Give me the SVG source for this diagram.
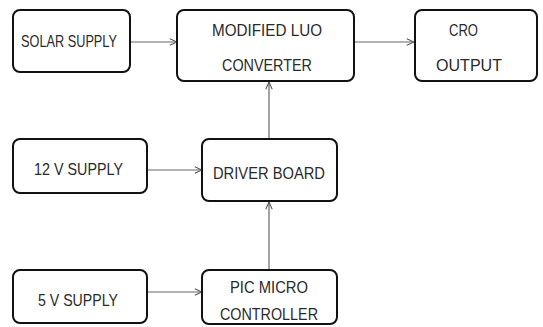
<svg xmlns="http://www.w3.org/2000/svg" width="543" height="327" viewBox="0 0 543 327">
<style>
.box{fill:#fff;stroke:#111;stroke-width:2}
.t{font-family:"Liberation Sans",Arial,sans-serif;font-size:16.5px;fill:#2a2a2a}
.c{stroke:#666;stroke-width:1.2;fill:none;marker-end:url(#ah)}
</style>
<defs>
<marker id="ah" viewBox="0 0 10 10" refX="10" refY="5" markerWidth="8" markerHeight="8" markerUnits="userSpaceOnUse" orient="auto">
<path d="M1,1 L10,5 L1,9" fill="none" stroke="#555" stroke-width="1.3"/>
</marker>
</defs>
<rect width="543" height="327" fill="#fff"/>
<g id="connectors">
<line class="c" x1="130" y1="42" x2="177" y2="42"/>
<line class="c" x1="354" y1="42" x2="414" y2="42"/>
<line class="c" x1="269" y1="139" x2="269" y2="82"/>
<line class="c" x1="147" y1="170" x2="202" y2="170"/>
<line class="c" x1="269" y1="270" x2="269" y2="202"/>
<line class="c" x1="147" y1="292" x2="202" y2="292"/>
</g>
<g id="solar">
<rect class="box" x="13" y="10" width="117" height="62" rx="7"/>
<text class="t" x="21" y="47" textLength="96" lengthAdjust="spacingAndGlyphs">SOLAR SUPPLY</text>
</g>
<g id="luo">
<rect class="box" x="177" y="10" width="177" height="71" rx="7"/>
<text class="t" x="212" y="36" textLength="110" lengthAdjust="spacingAndGlyphs">MODIFIED LUO</text>
<text class="t" x="222" y="71" textLength="90" lengthAdjust="spacingAndGlyphs">CONVERTER</text>
</g>
<g id="cro">
<rect class="box" x="415" y="10" width="122" height="71" rx="7"/>
<text class="t" x="449" y="36" textLength="29" lengthAdjust="spacingAndGlyphs">CRO</text>
<text class="t" x="436" y="71" textLength="66" lengthAdjust="spacingAndGlyphs">OUTPUT</text>
</g>
<g id="v12">
<rect class="box" x="13" y="139" width="134" height="54" rx="7"/>
<text class="t" x="34" y="175" textLength="89" lengthAdjust="spacingAndGlyphs">12 V SUPPLY</text>
</g>
<g id="driver">
<rect class="box" x="202" y="139" width="135" height="62" rx="7"/>
<text class="t" x="213" y="179" textLength="112" lengthAdjust="spacingAndGlyphs">DRIVER BOARD</text>
</g>
<g id="v5">
<rect class="box" x="13" y="270" width="134" height="53" rx="7"/>
<text class="t" x="38" y="306" textLength="80" lengthAdjust="spacingAndGlyphs">5 V SUPPLY</text>
</g>
<g id="pic">
<rect class="box" x="202" y="270" width="135" height="54" rx="7"/>
<text class="t" x="230" y="293" textLength="78" lengthAdjust="spacingAndGlyphs">PIC MICRO</text>
<text class="t" x="220" y="320" textLength="98" lengthAdjust="spacingAndGlyphs">CONTROLLER</text>
</g>
</svg>
